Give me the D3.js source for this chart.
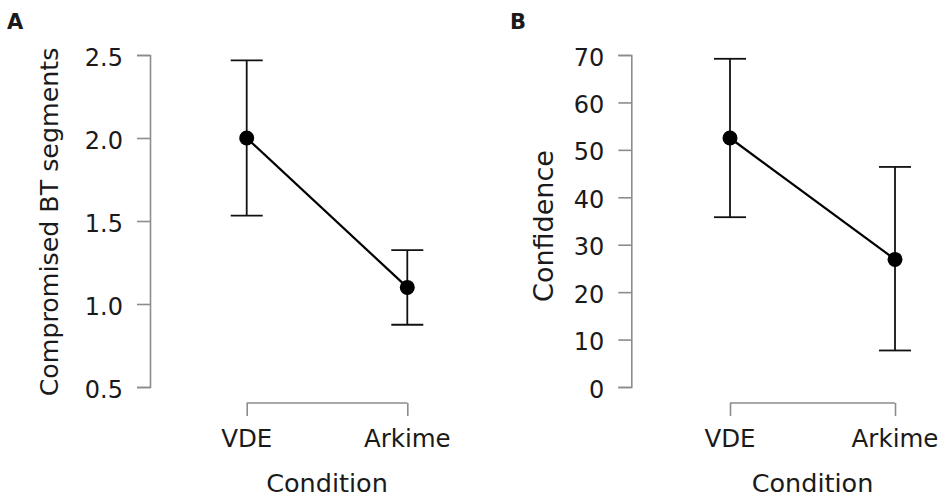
<!DOCTYPE html>
<html>
<head>
<meta charset="utf-8">
<script src="https://cdn.jsdelivr.net/npm/d3@7"></script>
<style>
  html, body { margin: 0; padding: 0; background: #fff; }
  svg { display: block; }
  text { font-family: "DejaVu Sans", sans-serif; fill: #1a1a1a; }
</style>
</head>
<body>
<svg id="chart" width="945" height="499"></svg>
<script>
// ---- data ----
const categories = ["VDE", "Arkime"];
const segMeans = [2.0, 1.10];
const segLower = [1.532, 0.875];
const segUpper = [2.468, 1.325];
const segTicks = [0.5, 1.0, 1.5, 2.0, 2.5];
const confMeans = [52.5, 26.9];
const confLower = [35.8, 7.7];
const confUpper = [69.2, 46.4];
const confTicks = [0, 10, 20, 30, 40, 50, 60, 70];
const xTitle = "Condition";

const svg = d3.select("#chart");
const axisColor = "#8c8c8c";

function panel(cfg) {
  const g = svg.append("g");
  const y = d3.scaleLinear().domain(cfg.domain).range([387, 55]);
  const x = d3.scalePoint().domain(categories).range(cfg.xRange);

  // y axis
  const yAxis = d3.axisLeft(y).tickValues(cfg.ticks).tickFormat(cfg.fmt).tickSize(13).tickPadding(14);
  const ya = g.append("g").attr("transform", `translate(${cfg.axisX},0)`).call(yAxis);
  ya.select(".domain").attr("stroke", axisColor).attr("stroke-width", 1.6);
  ya.selectAll(".tick line").attr("stroke", axisColor).attr("stroke-width", 1.6);
  ya.selectAll(".tick text").attr("font-size", 24).attr("font-family", "DejaVu Sans").attr("fill", "#1a1a1a").attr("dy", "0.42em");

  // x axis bracket
  const xAxis = d3.axisBottom(x).tickSize(-13).tickSizeOuter(0).tickPadding(0);
  const xa = g.append("g").attr("transform", `translate(0,416)`).call(xAxis);
  xa.select(".domain").remove();
  xa.selectAll(".tick line").attr("stroke", axisColor).attr("stroke-width", 1.6);
  xa.selectAll(".tick text").remove();
  g.append("line")
    .attr("x1", x(categories[0])).attr("x2", x(categories[1]))
    .attr("y1", 403).attr("y2", 403)
    .attr("stroke", axisColor).attr("stroke-width", 1.6);
  g.selectAll(".xlab").data(categories).enter().append("text")
    .attr("x", d => x(d)).attr("y", 447)
    .attr("text-anchor", "middle").attr("font-size", 24.5).text(d => d);

  // x title
  g.append("text").attr("x", (x(categories[0]) + x(categories[1])) / 2).attr("y", 492)
    .attr("text-anchor", "middle").attr("font-size", 25.5).text(xTitle);

  // y title
  g.append("text").attr("transform", `translate(${cfg.titleX},${cfg.titleY}) rotate(-90)`)
    .attr("text-anchor", "middle").attr("font-size", cfg.titleSize).text(cfg.title);

  // panel label
  g.append("text").attr("x", cfg.labelX).attr("y", 29)
    .attr("font-family", "Liberation Sans, Arial, sans-serif").attr("font-weight", "bold")
    .attr("font-size", 21).attr("fill", "#000").text(cfg.label);

  const data = categories.map((c, i) => ({ c, m: cfg.means[i], lo: cfg.lower[i], hi: cfg.upper[i] }));

  // error bars
  const capW = 16;
  data.forEach(d => {
    g.append("line").attr("x1", x(d.c)).attr("x2", x(d.c)).attr("y1", y(d.lo)).attr("y2", y(d.hi))
      .attr("stroke", "#111").attr("stroke-width", 1.8);
    [d.lo, d.hi].forEach(v => {
      g.append("line").attr("x1", x(d.c) - capW).attr("x2", x(d.c) + capW).attr("y1", y(v)).attr("y2", y(v))
        .attr("stroke", "#111").attr("stroke-width", 1.8);
    });
  });

  // line
  g.append("path").datum(data)
    .attr("d", d3.line().x(d => x(d.c)).y(d => y(d.m)))
    .attr("fill", "none").attr("stroke", "#000").attr("stroke-width", 2.2);

  // points
  g.selectAll(".pt").data(data).enter().append("circle")
    .attr("cx", d => x(d.c)).attr("cy", d => y(d.m)).attr("r", 7.5).attr("fill", "#000");
}

panel({
  domain: [0.5, 2.5], ticks: segTicks, fmt: d3.format(".1f"),
  xRange: [246.7, 407.3], axisX: 150,
  means: segMeans, lower: segLower, upper: segUpper,
  title: "Compromised BT segments", titleX: 58, titleY: 222, titleSize: 25.3,
  label: "A", labelX: 7
});

panel({
  domain: [0, 70], ticks: confTicks, fmt: d3.format("d"),
  xRange: [730, 895], axisX: 631.3,
  means: confMeans, lower: confLower, upper: confUpper,
  title: "Confidence", titleX: 553, titleY: 226, titleSize: 27,
  label: "B", labelX: 510
});
</script>
</body>
</html>
